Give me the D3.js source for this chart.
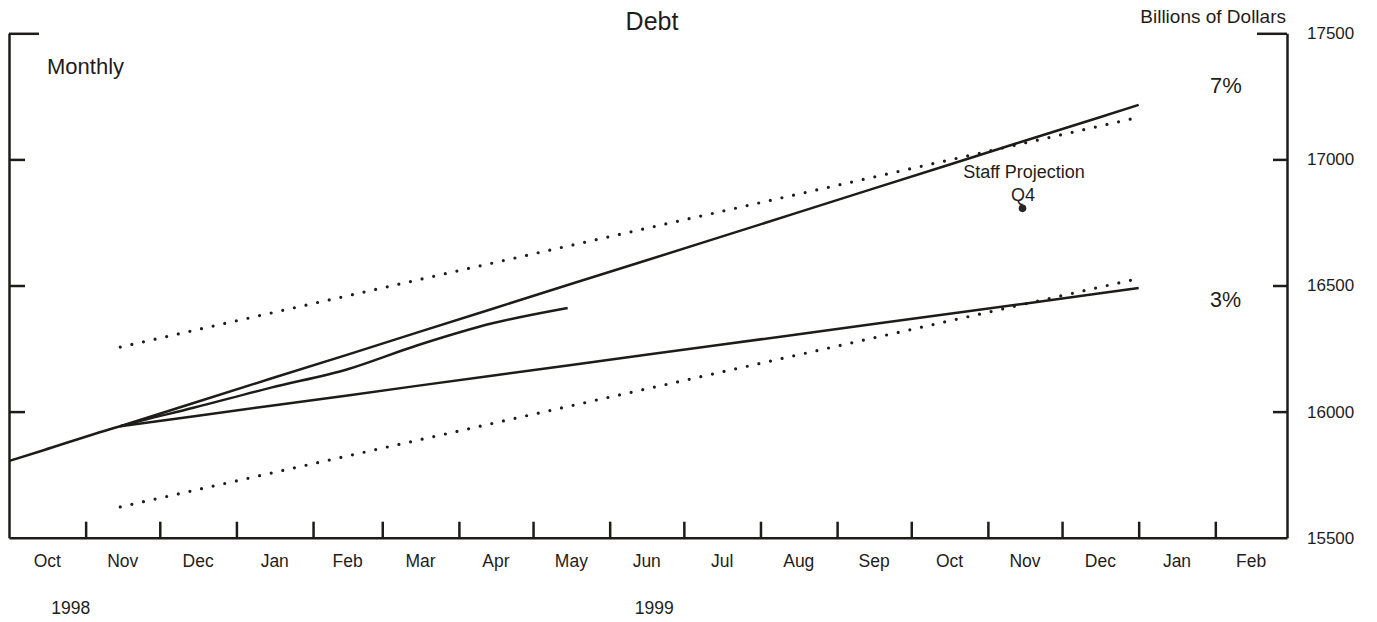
<!DOCTYPE html>
<html>
<head>
<meta charset="utf-8">
<script src="https://cdn.jsdelivr.net/npm/d3@7"></script>
<style>
  html, body { margin: 0; padding: 0; background: #ffffff; }
  svg { display: block; font-family: "Liberation Sans", Arial, Helvetica, sans-serif; }
  text { fill: #1f1d1a; }
</style>
</head>
<body>
<svg id="chart" width="1377" height="622"></svg>
<script>
// ---- Data (billions of dollars, monthly averages plotted mid-month) ----
const actualDates = ["1998-09-15","1998-10-15","1998-11-15","1998-12-15","1999-01-15","1999-02-15","1999-03-15","1999-04-15","1999-05-15"];
const actualDebt  = [15755, 15847, 15942, 16016, 16095, 16168, 16262, 16351, 16411];

// Growth paths from the Q4 1998 base
const pathDates = ["1998-11-15","1998-12-15","1999-01-15","1999-02-15","1999-03-15","1999-04-15","1999-05-15","1999-06-15","1999-07-15","1999-08-15","1999-09-15","1999-10-15","1999-11-15","1999-12-15","2000-01-01"];
const path7pct  = [15942, 16035, 16131, 16226, 16313, 16409, 16502, 16597, 16690, 16786, 16882, 16975, 17071, 17163, 17216];
const path3pct  = [15942, 15982, 16023, 16064, 16102, 16143, 16183, 16224, 16264, 16305, 16346, 16386, 16427, 16467, 16490];

// Range band (dotted)
const bandDates = ["1998-11-15","2000-01-01"];
const bandUpper = [16256, 17167];
const bandLower = [15622, 16528];

// Staff projection, Q4 1999
const projDate  = "1999-11-15";
const projValue = 16806;

// Axis labels
const monthLabels = ["Oct","Nov","Dec","Jan","Feb","Mar","Apr","May","Jun","Jul","Aug","Sep","Oct","Nov","Dec","Jan","Feb"];
const yearLabels  = ["1998","1999"];
const yearLabelDates = ["1998-10-26","1999-06-19"];
const yTicks = [15500, 16000, 16500, 17000, 17500];

// ---- Scales ----
const parse = d3.utcParse("%Y-%m-%d");
const plotLeft = 9, plotRight = 1287, plotTop = 33.3, plotBottom = 537.7;

const x = d3.scaleUtc()
  .domain([parse("1998-10-01"), parse("2000-03-01")])
  .range([plotLeft, plotRight]);
const y = d3.scaleLinear()
  .domain([15500, 17500])
  .range([plotBottom, plotTop]);

const svg = d3.select("#chart");
const ink = "#1e1c18";

// clip to plot area
svg.append("defs").append("clipPath").attr("id", "plot")
  .append("rect").attr("x", plotLeft).attr("y", plotTop)
  .attr("width", plotRight - plotLeft).attr("height", plotBottom - plotTop);

const line = d3.line().x(d => x(d[0])).y(d => y(d[1]));
const smoothLine = d3.line().x(d => x(d[0])).y(d => y(d[1])).curve(d3.curveMonotoneX);
const zip = (dates, vals) => dates.map((d, i) => [parse(d), vals[i]]);

const g = svg.append("g").attr("clip-path", "url(#plot)");

// dotted band
[bandUpper, bandLower].forEach(vals => {
  g.append("path")
    .attr("d", line(zip(bandDates, vals)))
    .attr("fill", "none")
    .attr("stroke", ink)
    .attr("stroke-width", 3.2)
    .attr("stroke-linecap", "round")
    .attr("stroke-dasharray", "0 11.9");
});

// growth paths
[path7pct, path3pct].forEach(vals => {
  g.append("path")
    .attr("d", line(zip(pathDates, vals)))
    .attr("fill", "none")
    .attr("stroke", ink)
    .attr("stroke-width", 2.5)
    .attr("stroke-linejoin", "round");
});

// actual debt
g.append("path")
  .attr("d", smoothLine(zip(actualDates, actualDebt)))
  .attr("fill", "none")
  .attr("stroke", ink)
  .attr("stroke-width", 2.5)
  .attr("stroke-linejoin", "round");

// staff projection point
svg.append("circle")
  .attr("cx", x(parse(projDate)))
  .attr("cy", y(projValue))
  .attr("r", 3.8)
  .attr("fill", "#2a2622");

// ---- Axes ----
const monthStarts = d3.utcMonth.range(parse("1998-11-01"), parse("2000-03-01"));

const xAxis = d3.axisBottom(x)
  .tickValues(monthStarts)
  .tickSize(-16)
  .tickSizeOuter(0)
  .tickFormat("");
const gx = svg.append("g").attr("transform", `translate(0,${plotBottom})`).call(xAxis);
gx.selectAll("path, line").attr("stroke", ink).attr("stroke-width", 2.5);

const yAxisR = d3.axisRight(y)
  .tickValues(yTicks)
  .tickSize(-14)
  .tickSizeOuter(0)
  .tickPadding(20)
  .tickFormat(d3.format("d"));
const gyR = svg.append("g").attr("transform", `translate(${plotRight},0)`).call(yAxisR);
gyR.attr("font-family", null).attr("font-size", null);
gyR.selectAll("path, line").attr("stroke", ink).attr("stroke-width", 2.5);
gyR.selectAll("text").attr("font-size", 17).attr("fill", "#1f1d1a");
gyR.selectAll(".tick").filter(d => d === 17500).select("line").attr("x2", -30);
gyR.selectAll(".tick").filter(d => d === 15500).select("line").remove();

const yAxisL = d3.axisLeft(y)
  .tickValues(yTicks)
  .tickSize(-16)
  .tickSizeOuter(0)
  .tickFormat("");
const gyL = svg.append("g").attr("transform", `translate(${plotLeft},0)`).call(yAxisL);
gyL.selectAll("path, line").attr("stroke", ink).attr("stroke-width", 2.5);
gyL.selectAll(".tick").filter(d => d === 17500).select("line").attr("x2", 30);
gyL.selectAll(".tick").filter(d => d === 15500).select("line").remove();

// month labels centred within each month
const allStarts = d3.utcMonth.range(parse("1998-10-01"), parse("2000-04-01"));
svg.append("g").selectAll("text")
  .data(monthLabels)
  .join("text")
  .attr("x", (d, i) => (x(allStarts[i]) + x(allStarts[i + 1])) / 2)
  .attr("y", 567)
  .attr("text-anchor", "middle")
  .attr("font-size", 17.5)
  .text(d => d);

svg.append("g").selectAll("text")
  .data(yearLabels)
  .join("text")
  .attr("x", (d, i) => x(parse(yearLabelDates[i])))
  .attr("y", 614)
  .attr("text-anchor", "middle")
  .attr("font-size", 17.5)
  .text(d => d);

// ---- Titles and annotations ----
svg.append("text").attr("x", 652).attr("y", 30).attr("text-anchor", "middle")
  .attr("font-size", 25).text("Debt");
svg.append("text").attr("x", 47).attr("y", 74).attr("font-size", 22).text("Monthly");
svg.append("text").attr("x", 1286).attr("y", 23).attr("text-anchor", "end")
  .attr("font-size", 19).text("Billions of Dollars");
svg.append("text").attr("x", 1210).attr("y", 93).attr("font-size", 22).text("7%");
svg.append("text").attr("x", 1210).attr("y", 307).attr("font-size", 21.5).text("3%");
svg.append("text").attr("x", 1024).attr("y", 178).attr("text-anchor", "middle")
  .attr("font-size", 18).text("Staff Projection");
svg.append("text").attr("x", 1023).attr("y", 201).attr("text-anchor", "middle")
  .attr("font-size", 18).text("Q4");
</script>
</body>
</html>
